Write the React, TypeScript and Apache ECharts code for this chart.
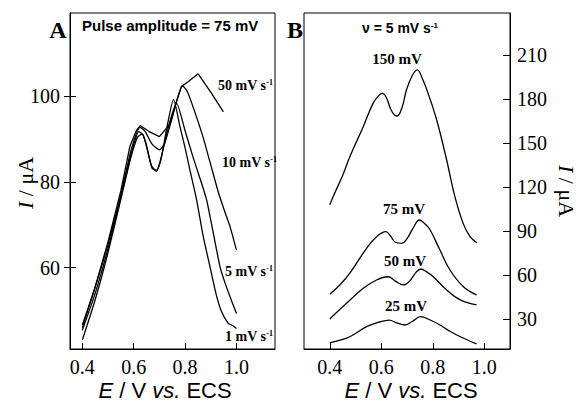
import React, { useEffect, useRef } from 'react';
import * as echarts from 'echarts';

const xTicks = [0.4, 0.6, 0.8, 1.0];
const yTicksA = [60, 80, 100];
const yTicksB = [30, 60, 90, 120, 150, 180, 210];

// Panel A: pulse amplitude 75 mV, different scan rates
const curveA1 = [[0.40,43.1],[0.45,52.5],[0.50,63.5],[0.55,76],[0.59,86],[0.615,90.5],[0.632,91.2],[0.648,89],[0.668,84],[0.688,82.5],[0.705,85],[0.73,93],[0.755,99.3],[0.78,93],[0.80,88],[0.82,82.5],[0.845,75.8],[0.87,67.5],[0.897,60.2],[0.92,54],[0.94,50],[0.968,47],[0.985,46.5],[1.0,45.8]];
const curveA5 = [[0.40,45.4],[0.45,54],[0.50,64.5],[0.55,76.5],[0.59,86.5],[0.62,91.8],[0.637,91],[0.655,87],[0.672,83.2],[0.69,82.8],[0.71,86.5],[0.74,94],[0.767,98.4],[0.80,92],[0.83,86],[0.86,80.5],[0.884,75.8],[0.91,68],[0.936,60.2],[0.955,56.5],[0.975,53.2],[1.0,49.3]];
const curveA10 = [[0.40,46.6],[0.45,55.5],[0.50,65.5],[0.55,77],[0.59,87.5],[0.625,92.8],[0.645,91.8],[0.67,89],[0.70,87.5],[0.72,89],[0.745,94],[0.77,99.5],[0.79,102.5],[0.81,101],[0.84,96],[0.87,90.5],[0.90,84],[0.93,77.5],[0.955,73],[0.975,69.6],[1.0,64.1]];
const curveA50 = [[0.40,46],[0.45,55.5],[0.50,66],[0.55,78],[0.585,88.3],[0.61,92],[0.625,93.2],[0.66,91.8],[0.70,90.6],[0.741,93.5],[0.765,98.5],[0.785,102.3],[0.813,103.5],[0.851,105.3],[0.903,100.7],[0.949,96.4]];

// Panel B: scan rate 5 mV/s, different pulse amplitudes
const curveB150 = [[0.40,108],[0.413,113.6],[0.45,128],[0.478,140.8],[0.53,161.3],[0.568,177.2],[0.59,182.5],[0.605,184],[0.62,181],[0.635,174],[0.65,169.5],[0.662,168.6],[0.68,174],[0.698,186.3],[0.72,196],[0.74,200],[0.76,194],[0.782,184],[0.815,166],[0.854,138.6],[0.886,113.6],[0.918,95.4],[0.945,86.3],[0.971,82.2]];
const curveB75 = [[0.40,47],[0.44,53.5],[0.478,61.4],[0.543,78.4],[0.582,86.3],[0.618,89.7],[0.635,87],[0.655,82.5],[0.679,81.8],[0.70,85],[0.725,92.5],[0.748,97.7],[0.77,95],[0.79,90.9],[0.828,77.2],[0.867,63.6],[0.919,52.2],[0.97,46.6]];
const curveB50 = [[0.40,30.2],[0.465,40.9],[0.53,51.1],[0.582,56.8],[0.627,59],[0.655,56],[0.686,53.4],[0.71,56],[0.735,62],[0.754,64.3],[0.775,62.5],[0.802,59],[0.854,50],[0.907,43.2],[0.97,39.8]];
const curveB25 = [[0.40,14],[0.44,15.8],[0.478,18.1],[0.543,25],[0.59,28],[0.631,29.5],[0.66,27.5],[0.692,26.1],[0.72,28.5],[0.753,31.8],[0.79,29.5],[0.828,26.1],[0.87,21.5],[0.907,18.1],[0.97,13.2]];

const SERIF = 'Liberation Serif';
const SANS = 'Liberation Sans';

const tickLabel = {
  fontFamily: SERIF,
  fontSize: 20,
  color: '#000',
};

function lineSeries(data: number[][], idx: number, smooth: number) {
  return {
    type: 'line',
    xAxisIndex: idx,
    yAxisIndex: idx === 0 ? 0 : 2,
    data,
    smooth,
    showSymbol: false,
    symbol: 'none',
    lineStyle: { color: '#000', width: 1.3 },
    silent: true,
  };
}

function serifLabel(text: string, x: number, y: number, size: number, align = 'left') {
  return {
    type: 'text',
    x,
    y,
    style: {
      text,
      fontFamily: SERIF,
      fontWeight: 'bold',
      fontSize: size,
      fill: '#000',
      align,
      verticalAlign: 'middle',
      rich: {
        s: { fontFamily: SERIF, fontWeight: 'bold', fontSize: 8, verticalAlign: 'top', fill: '#000' },
      },
    },
  };
}

export default function App() {
  const ref = useRef<HTMLDivElement>(null);
  useEffect(() => {
    const chart = echarts.init(ref.current!, null, { renderer: 'svg' });
    const axisLine = { show: true, onZero: false, lineStyle: { color: '#000', width: 1 } };
    const option = {
      animation: false,
      backgroundColor: '#fff',
      grid: [
        { left: 70, top: 13, width: 205, height: 336, show: true, borderColor: '#000', borderWidth: 1 },
        { left: 304, top: 13, width: 206, height: 336, show: true, borderColor: '#000', borderWidth: 1 },
      ],
      xAxis: [
        {
          type: 'value', gridIndex: 0, min: 0.352, max: 1.15,
          axisLine,
          axisTick: { show: true, inside: true, length: 6, customValues: xTicks, lineStyle: { color: '#000' } },
          axisLabel: { ...tickLabel, customValues: xTicks, margin: 8, formatter: (v: number) => v.toFixed(1) },
          splitLine: { show: false },
        },
        {
          type: 'value', gridIndex: 1, min: 0.3, max: 1.1,
          axisLine,
          axisTick: { show: true, inside: true, length: 6, customValues: xTicks, lineStyle: { color: '#000' } },
          axisLabel: { ...tickLabel, customValues: xTicks, margin: 8, formatter: (v: number) => v.toFixed(1) },
          splitLine: { show: false },
        },
      ],
      yAxis: [
        {
          type: 'value', gridIndex: 0, min: 41, max: 119.5, position: 'left',
          axisLine,
          axisTick: { show: true, inside: false, length: 6, customValues: yTicksA, lineStyle: { color: '#000' } },
          axisLabel: { ...tickLabel, customValues: yTicksA, margin: 10 },
          splitLine: { show: false },
        },
        {
          type: 'value', gridIndex: 0, min: 41, max: 119.5, position: 'left',
          axisLine,
          axisTick: { show: true, inside: true, length: 6, customValues: yTicksA, lineStyle: { color: '#000' } },
          axisLabel: { show: false },
          splitLine: { show: false },
        },
        {
          type: 'value', gridIndex: 1, min: 9.75, max: 238.8, position: 'right',
          axisLine,
          axisTick: { show: true, inside: true, length: 7, customValues: yTicksB, lineStyle: { color: '#000' } },
          axisLabel: { ...tickLabel, customValues: yTicksB, margin: 7 },
          splitLine: { show: false },
        },
      ],
      series: [
        lineSeries(curveA1, 0, 0.2),
        lineSeries(curveA5, 0, 0.2),
        lineSeries(curveA10, 0, 0.2),
        lineSeries(curveA50, 0, 0),
        lineSeries(curveB150, 1, 0.4),
        lineSeries(curveB75, 1, 0.4),
        lineSeries(curveB50, 1, 0.4),
        lineSeries(curveB25, 1, 0.4),
      ],
      graphic: [
        { type: 'text', x: 58, y: 30, style: { text: 'A', fontFamily: SERIF, fontWeight: 'bold', fontSize: 24, fill: '#000', align: 'center', verticalAlign: 'middle' } },
        { type: 'text', x: 295, y: 30, style: { text: 'B', fontFamily: SERIF, fontWeight: 'bold', fontSize: 24, fill: '#000', align: 'center', verticalAlign: 'middle' } },
        { type: 'text', x: 82, y: 25, style: { text: 'Pulse amplitude = 75 mV', fontFamily: SANS, fontWeight: 'bold', fontSize: 15, fill: '#000', align: 'left', verticalAlign: 'middle' } },
        {
          type: 'text', x: 362, y: 28,
          style: {
            text: 'ν = 5 mV s{s|-1}', fontFamily: SANS, fontWeight: 'bold', fontSize: 14, fill: '#000', align: 'left', verticalAlign: 'middle',
            rich: { s: { fontFamily: SANS, fontWeight: 'bold', fontSize: 8, verticalAlign: 'top', fill: '#000' } },
          },
        },
        serifLabel('50 mV s{s|-1}', 218, 85, 14),
        serifLabel('10 mV s{s|-1}', 222, 162, 14),
        serifLabel('5 mV s{s|-1}', 225, 271, 14),
        serifLabel('1 mV s{s|-1}', 225, 336, 14),
        serifLabel('150 mV', 397, 59, 15, 'center'),
        serifLabel('75 mV', 404, 209, 15, 'center'),
        serifLabel('50 mV', 405, 261, 15, 'center'),
        serifLabel('25 mV', 406, 306, 15, 'center'),
        {
          type: 'text', x: 25, y: 183, rotation: Math.PI / 2,
          style: {
            text: '{i|I} / μA', fontFamily: SERIF, fontSize: 22, fill: '#000', align: 'center', verticalAlign: 'middle',
            rich: { i: { fontFamily: SERIF, fontStyle: 'italic', fontSize: 22, fill: '#000' } },
          },
        },
        {
          type: 'text', x: 566, y: 191, rotation: -Math.PI / 2,
          style: {
            text: '{i|I} / μA', fontFamily: SERIF, fontSize: 22, fill: '#000', align: 'center', verticalAlign: 'middle',
            rich: { i: { fontFamily: SERIF, fontStyle: 'italic', fontSize: 22, fill: '#000' } },
          },
        },
        {
          type: 'text', x: 165, y: 390,
          style: {
            text: '{i|E} / V {i|vs.} ECS', fontFamily: SANS, fontSize: 22, fill: '#000', align: 'center', verticalAlign: 'middle',
            rich: { i: { fontFamily: SANS, fontStyle: 'italic', fontSize: 22, fill: '#000' } },
          },
        },
        {
          type: 'text', x: 411, y: 390,
          style: {
            text: '{i|E} / V {i|vs.} ECS', fontFamily: SANS, fontSize: 22, fill: '#000', align: 'center', verticalAlign: 'middle',
            rich: { i: { fontFamily: SANS, fontStyle: 'italic', fontSize: 22, fill: '#000' } },
          },
        },
      ],
    };
    chart.setOption(option as any);
    return () => chart.dispose();
  }, []);
  return <div ref={ref} style={{ position: 'fixed', left: 0, top: 0, width: 578, height: 402, background: '#fff' }} />;
}
